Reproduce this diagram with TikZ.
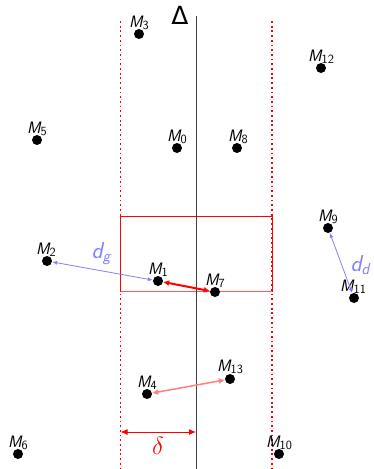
\documentclass[tikz,border=0pt]{standalone}
\usepackage{fontspec}
\newfontfamily\dejavu{DejaVu Sans}
\usetikzlibrary{arrows.meta}
\definecolor{blu}{RGB}{128,128,255}
\definecolor{pnk}{RGB}{255,128,128}
\newcommand{\Mlab}[1]{{\sffamily\itshape M}\raisebox{-0.3ex}{\fontsize{12.5}{13}\selectfont\sffamily #1}}
\newcommand{\dlab}[1]{{\sffamily\itshape d}\raisebox{-0.3ex}{\fontsize{16}{17}\selectfont\sffamily\itshape #1}}
\begin{document}
\begin{tikzpicture}[x=1pt,y=-1pt,
  pt/.style={circle,fill=black,minimum size=10pt,inner sep=0pt},
  lab/.style={anchor=base,inner sep=0pt,font=\fontsize{16.5}{18}\selectfont},
  big/.style={inner sep=0pt,font=\fontsize{23}{26}\selectfont},
  bluarrow/.style={blu,line width=0.8pt,{Latex[length=5pt,width=4pt]}-{Latex[length=5pt,width=4pt]}},
  redarrow/.style={red,line width=2pt,{Latex[length=6pt,width=6pt]}-{Latex[length=6pt,width=6pt]}},
  pnkarrow/.style={pnk,line width=1.5pt,{Latex[length=6pt,width=6pt]}-{Latex[length=6pt,width=6pt]}},
  guide/.style={red,line width=1.8pt,dash pattern=on 1.8pt off 2.9pt}
]
\useasboundingbox (0,0) rectangle (373,469);
% guides
\coordinate (gl1) at (120.5,21);
\coordinate (gl2) at (120.5,469);
\coordinate (gr1) at (272,21);
\coordinate (gr2) at (272,469);
\draw[guide] (gl1) -- (gl2);
\draw[guide] (gr1) -- (gr2);
% rectangle
\coordinate (r1) at (120.5,216);
\coordinate (r2) at (272,216);
\coordinate (r3) at (272,291.5);
\coordinate (r4) at (120.5,291.5);
\draw[red,line width=1pt] (r4) -- (r1) -- (r2) -- (r3);
\draw[red!65,line width=1.2pt] (r4) -- (r3);
% axis
\coordinate (ax1) at (196,16);
\coordinate (ax2) at (196,469);
\draw[black!75,line width=1pt] (ax1) -- (ax2);
\node[inner sep=0pt,anchor=base,font=\fontsize{25}{28}\selectfont\dejavu] (delta) at (180,24) {Δ};
% labels
\node[lab] (l3) at (139,27) {\Mlab{3}};
\node[lab] (l12) at (321,61) {\Mlab{12}};
\node[lab] (l5) at (37,133) {\Mlab{5}};
\node[lab] (l0) at (177,141) {\Mlab{0}};
\node[lab] (l8) at (238,141) {\Mlab{8}};
\node[lab] (l9) at (328,221) {\Mlab{9}};
\node[lab] (l2) at (46,254) {\Mlab{2}};
\node[lab] (l1) at (158,274) {\Mlab{1}};
\node[lab] (l7) at (215,285) {\Mlab{7}};
\node[lab] (l11) at (353,291) {\Mlab{11}};
\node[lab] (l13) at (230,371) {\Mlab{13}};
\node[lab] (l4) at (147,387) {\Mlab{4}};
\node[lab] (l6) at (18,447) {\Mlab{6}};
\node[lab] (l10) at (279,447) {\Mlab{10}};
% points
\node[pt] (m3) at (139,34) {};
\node[pt] (m12) at (321,68) {};
\node[pt] (m5) at (37,140) {};
\node[pt] (m0) at (177,148) {};
\node[pt] (m8) at (237,148) {};
\node[pt] (m9) at (328,228) {};
\node[pt] (m2) at (47,261) {};
\node[pt] (m1) at (158,281) {};
\node[pt] (m7) at (215,292) {};
\node[pt] (m11) at (354,298) {};
\node[pt] (m13) at (230,379) {};
\node[pt] (m4) at (147,394) {};
\node[pt] (m6) at (18,454) {};
\node[pt] (m10) at (279,454) {};
% distances
\draw[bluarrow] (m2) -- (m1);
\draw[bluarrow] (m9) -- (m11);
\draw[redarrow] (m1) -- (m7);
\draw[pnkarrow] (m4) -- (m13);
\node[big,text=blu] (dg) at (101,254) {\dlab{g}};
\node[big,text=blu] (dd) at (360,265) {\dlab{d}};
% delta
\coordinate (dl) at (120.5,432);
\coordinate (dr) at (196,432);
\draw[red,line width=1pt,{Latex[length=7pt,width=6pt]}-{Latex[length=7pt,width=6pt]}] (dl) -- (dr);
\node[inner sep=0pt,text=red,font=\fontsize{28}{30}\selectfont] (dlab) at (158,446) {$\delta$};
\end{tikzpicture}
\end{document}
